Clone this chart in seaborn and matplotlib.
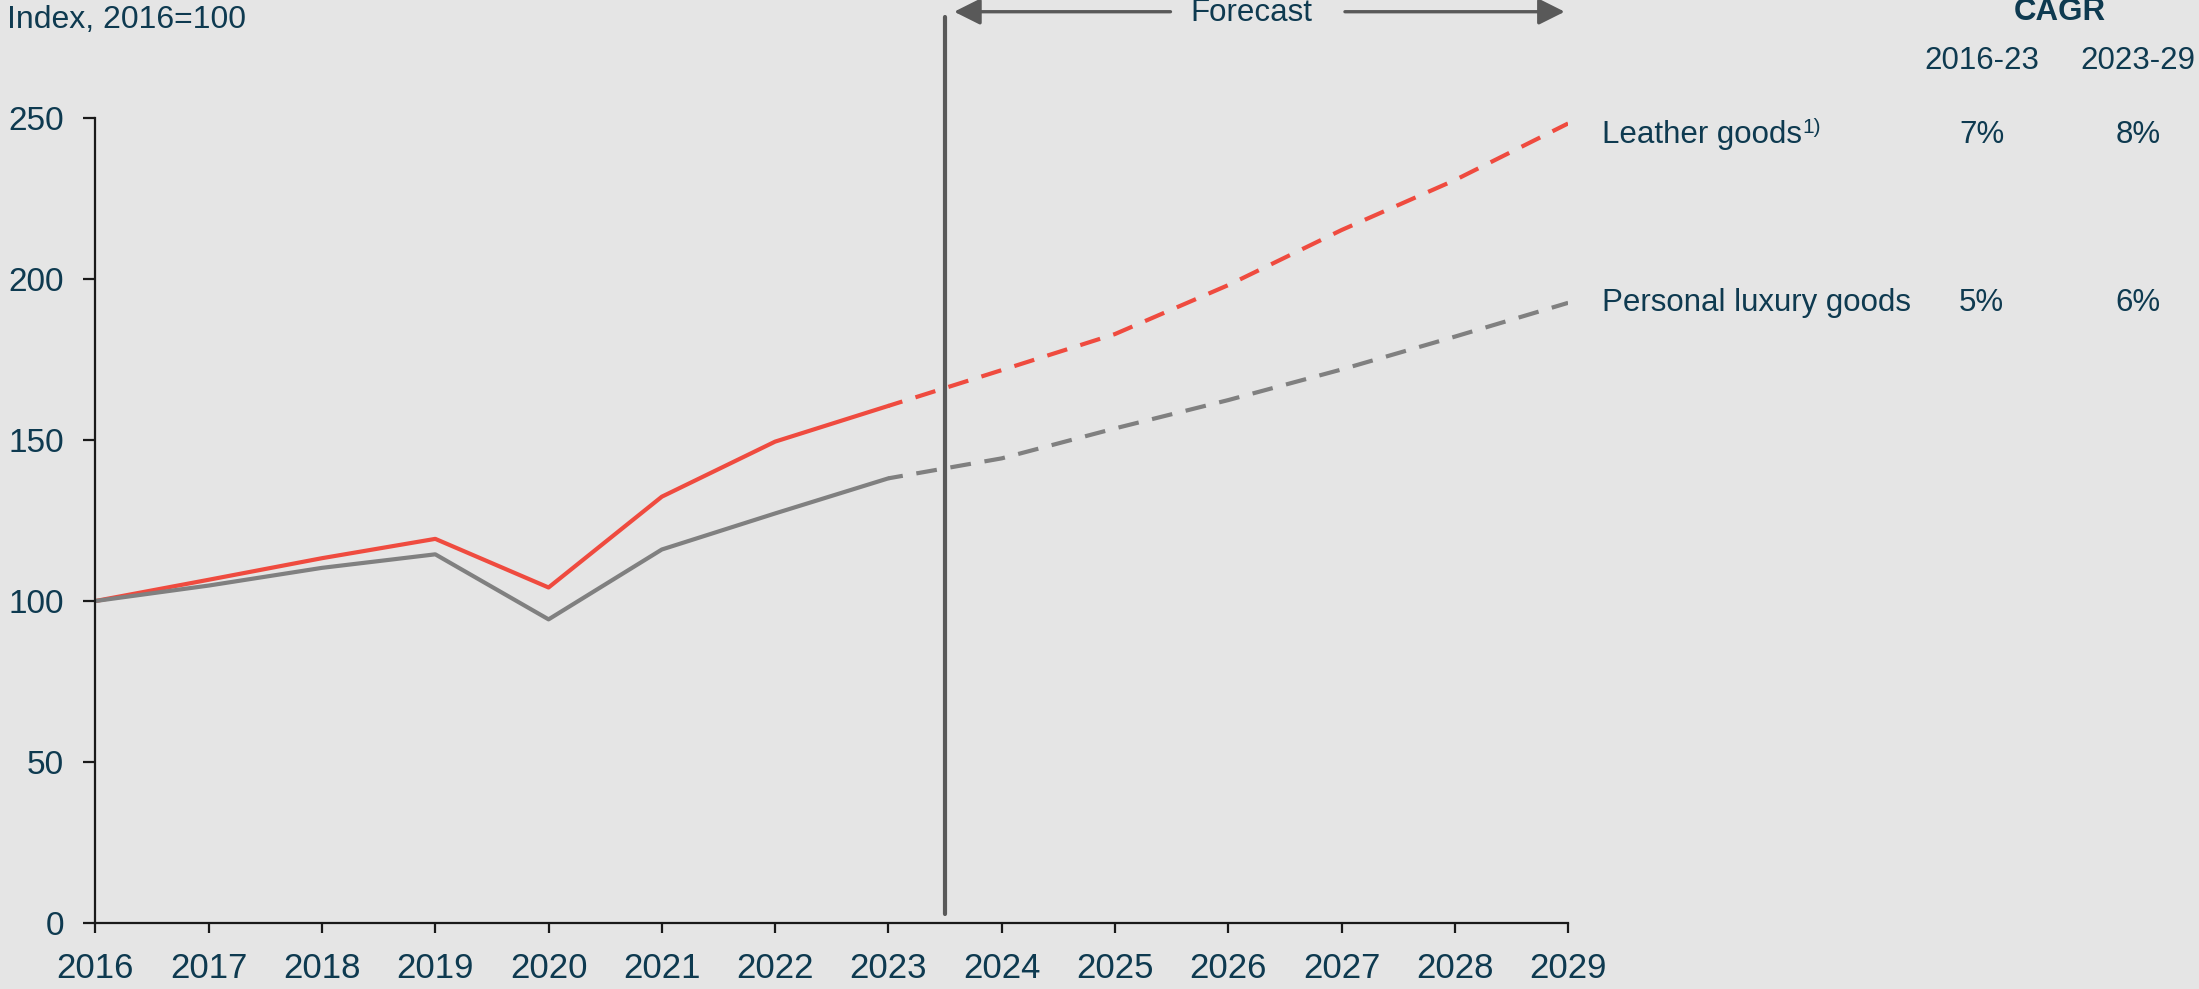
import matplotlib
matplotlib.use("Agg")
import matplotlib.pyplot as plt
import seaborn as sns
import pandas as pd
import numpy as np

# ---- data ----
years = [2016, 2017, 2018, 2019, 2020, 2021, 2022, 2023, 2024, 2025, 2026, 2027, 2028, 2029]
leather = [100, 106.6, 113.3, 119.3, 104.2, 132.4, 149.5, 160.6, 171.7, 182.9, 198.1, 215.2, 230.7, 248.3]
personal = [100, 104.8, 110.3, 114.5, 94.3, 116.0, 127.2, 138.1, 144.3, 153.6, 162.4, 171.9, 182.1, 192.6]
series_names = ["Leather goods", "Personal luxury goods"]
cagr_periods = ["2016-23", "2023-29"]
cagr_leather = ["7%", "8%"]
cagr_personal = ["5%", "6%"]
last_actual = 2023
y_ticks = [0, 50, 100, 150, 200, 250]

BG = "#E5E5E5"
TXT = "#0E3A50"
RED = "#EF4B3F"
GREY = "#808080"
DARK = "#595959"

sns.set_theme(style="white")
plt.rcParams["font.family"] = ["Liberation Sans", "DejaVu Sans"]
plt.rcParams["axes.facecolor"] = BG
plt.rcParams["figure.facecolor"] = BG

df = pd.DataFrame({"year": years, "Leather goods": leather, "Personal luxury goods": personal})
hist = df[df["year"] <= last_actual]
fcst = df[df["year"] >= last_actual]

fig = plt.figure(figsize=(21.99, 9.89), dpi=100)
ax = fig.add_axes([0.0434, 0.0667, 0.6697, 0.8140])
ax.set_facecolor(BG)

for name, col in zip(series_names, [RED, GREY]):
    sns.lineplot(data=hist, x="year", y=name, ax=ax, color=col, linewidth=3.0)
    sns.lineplot(data=fcst, x="year", y=name, ax=ax, color=col, linewidth=3.0,
                 linestyle=(1.5, (5, 3.3)))

ax.set_xlim(2016, 2029)
ax.set_ylim(0, 250)
ax.set_xticks(years)
ax.set_xticklabels([str(y) for y in years])
ax.set_yticks(y_ticks)
ax.set_xlabel("")
ax.set_ylabel("")
for s in ["top", "right"]:
    ax.spines[s].set_visible(False)
for s in ["left", "bottom"]:
    ax.spines[s].set_color("#1a1a1a")
    ax.spines[s].set_linewidth(1.6)
ax.tick_params(axis="x", direction="out", length=7, width=1.6, color="#1a1a1a",
               labelsize=25, labelcolor=TXT, pad=14, bottom=True)
ax.tick_params(axis="y", direction="out", length=8.5, width=1.6, color="#1a1a1a",
               labelsize=24, labelcolor=TXT, pad=14, left=True)
ax.grid(False)

FS = 22.5

# forecast divider
ax.axvline(2023.5, ymin=0.011, ymax=1.1255, color=DARK, linewidth=3.0, clip_on=False)
ax.text(2026.2, 282.6, "Forecast", ha="center", va="center", fontsize=FS, color=TXT)
arrow_kw = dict(arrowstyle="-|>,head_length=0.8,head_width=0.4", color=DARK, lw=2.4,
                shrinkA=0, shrinkB=0, mutation_scale=20)
ax.annotate("", xy=(2023.58, 283), xytext=(2025.49, 283), arrowprops=arrow_kw,
            annotation_clip=False)
ax.annotate("", xy=(2028.97, 283), xytext=(2027.03, 283), arrowprops=arrow_kw,
            annotation_clip=False)

# y-axis caption
fig.text(7 / 2199, 1 - 20 / 989, "Index, 2016=100", ha="left", va="center",
         fontsize=23, color=TXT)

# right-side labels and CAGR table
ax.text(2033.34, 282.9, "CAGR", ha="center", va="center", fontsize=FS,
        fontweight="bold", color=TXT)
col_x = [2032.65, 2034.03]
for cx, lab in zip(col_x, cagr_periods):
    ax.text(cx, 267.7, lab, ha="center", va="center", fontsize=FS, color=TXT)

row_y = [244.8, 192.5]
t = ax.text(2029.3, row_y[0], series_names[0], ha="left", va="center", fontsize=FS, color=TXT)
ax.annotate("1)", xy=(1.0, 1.0), xycoords=t, xytext=(0.5, 1), textcoords="offset points",
            ha="left", va="top", fontsize=15, color=TXT)
ax.text(2029.3, row_y[1], series_names[1], ha="left", va="center", fontsize=FS, color=TXT)
for cx, v in zip(col_x, cagr_leather):
    ax.text(cx, row_y[0], v, ha="center", va="center", fontsize=FS, color=TXT)
for cx, v in zip(col_x, cagr_personal):
    ax.text(cx, row_y[1], v, ha="center", va="center", fontsize=FS, color=TXT)

fig.savefig("out.png", dpi=100, facecolor=BG)
